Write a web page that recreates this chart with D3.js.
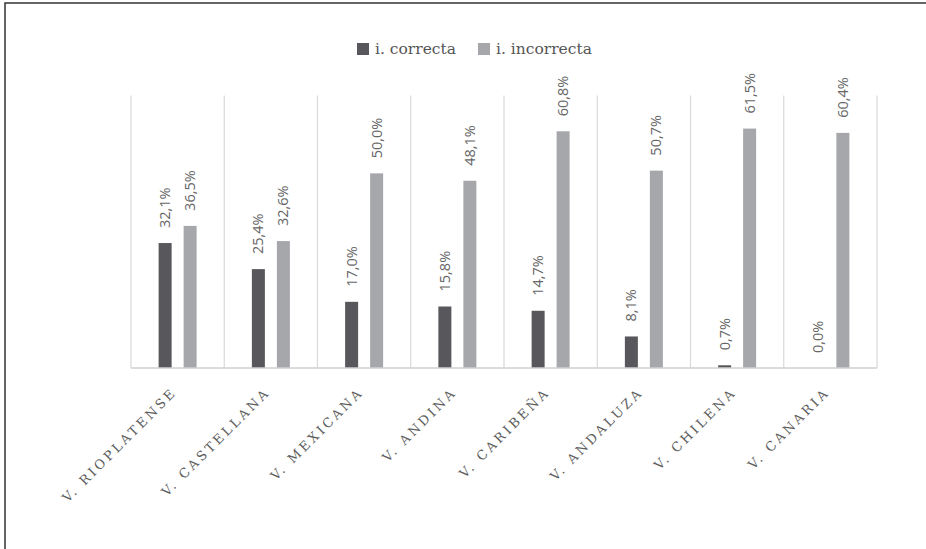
<!DOCTYPE html>
<html>
<head>
<meta charset="utf-8">
<script src="https://cdn.jsdelivr.net/npm/d3@7"></script>
<style>
  body { margin: 0; background: #fff; }
  svg { display: block; }
</style>
</head>
<body>
<svg class="chart" width="926" height="549"></svg>
<script>
const categories = ["V. RIOPLATENSE", "V. CASTELLANA", "V. MEXICANA", "V. ANDINA",
                    "V. CARIBEÑA", "V. ANDALUZA", "V. CHILENA", "V. CANARIA"];
const seriesNames = ["i. correcta", "i. incorrecta"];
const correcta = [32.1, 25.4, 17.0, 15.8, 14.7, 8.1, 0.7, 0.0];
const incorrecta = [36.5, 32.6, 50.0, 48.1, 60.8, 50.7, 61.5, 60.4];
const colors = ["#58585c", "#a6a7ab"];

const rows = categories.map((c, i) => ({ cat: c, values: [correcta[i], incorrecta[i]] }));

const svg = d3.select(".chart");

// outer frame (only top and left edge are visible in the crop)
svg.append("rect")
    .attr("x", 5).attr("y", 3)
    .attr("width", 960).attr("height", 600)
    .attr("fill", "none")
    .attr("stroke", "#333")
    .attr("stroke-width", 1.5);

const plot = { left: 131, right: 877, top: 95.5, bottom: 368 };

const x0 = d3.scaleBand()
    .domain(categories)
    .range([plot.left, plot.right])
    .padding(0);

const groupW = 38;
const x1 = d3.scaleBand()
    .domain(seriesNames)
    .range([(x0.bandwidth() - groupW) / 2, (x0.bandwidth() + groupW) / 2])
    .paddingInner(0.48);

const y = d3.scaleLinear()
    .domain([0, 70])
    .range([plot.bottom, plot.top]);

// vertical separators between categories
svg.append("g")
    .selectAll("line")
    .data(categories.concat(["end"]))
    .join("line")
    .attr("x1", (d, i) => plot.left + i * x0.step())
    .attr("x2", (d, i) => plot.left + i * x0.step())
    .attr("y1", plot.top)
    .attr("y2", plot.bottom)
    .attr("stroke", "#d9d9d9")
    .attr("stroke-width", 1.2);

// bars
const groups = svg.append("g")
    .selectAll("g")
    .data(rows)
    .join("g")
    .attr("transform", d => `translate(${x0(d.cat)},0)`);

groups.selectAll("rect")
    .data(d => d.values.map((v, k) => ({ s: seriesNames[k], v: v, k: k })))
    .join("rect")
    .attr("x", d => x1(d.s))
    .attr("width", x1.bandwidth())
    .attr("y", d => y(d.v))
    .attr("height", d => plot.bottom - y(d.v))
    .attr("fill", d => colors[d.k]);

// value labels
groups.selectAll("text")
    .data(d => d.values.map((v, k) => ({ s: seriesNames[k], v: v })))
    .join("text")
    .attr("transform", d => `translate(${x1(d.s) + x1.bandwidth() / 2 + 5},${y(d.v) - 15}) rotate(-90)`)
    .attr("font-family", "'Open Sans', sans-serif")
    .attr("font-size", 14.5)
    .attr("fill", "#666")
    .text(d => d.v.toFixed(1).replace(".", ",") + "%");

// baseline
svg.append("line")
    .attr("x1", plot.left).attr("x2", plot.right)
    .attr("y1", plot.bottom).attr("y2", plot.bottom)
    .attr("stroke", "#d0d0d0")
    .attr("stroke-width", 1.5);

// category labels
svg.append("g")
    .selectAll("text")
    .data(categories)
    .join("text")
    .attr("transform", d => `translate(${x0(d) + x0.bandwidth() / 2},${plot.bottom + 25}) rotate(-45)`)
    .attr("text-anchor", "end")
    .attr("font-family", "'DejaVu Serif', serif")
    .attr("font-size", 13)
    .attr("letter-spacing", 2.9)
    .attr("fill", "#5e5e5e")
    .text(d => d);

// legend
const legend = svg.append("g").attr("transform", "translate(357,43)");
const legendX = [0, 121];
const item = legend.selectAll("g")
    .data(seriesNames)
    .join("g")
    .attr("transform", (d, i) => `translate(${legendX[i]},0)`);
item.append("rect")
    .attr("width", 12).attr("height", 12)
    .attr("fill", (d, i) => colors[i]);
item.append("text")
    .attr("x", 18).attr("y", 11)
    .attr("font-family", "'DejaVu Serif', serif")
    .attr("font-size", 15.5)
    .attr("fill", "#555")
    .text(d => d);
</script>
</body>
</html>
